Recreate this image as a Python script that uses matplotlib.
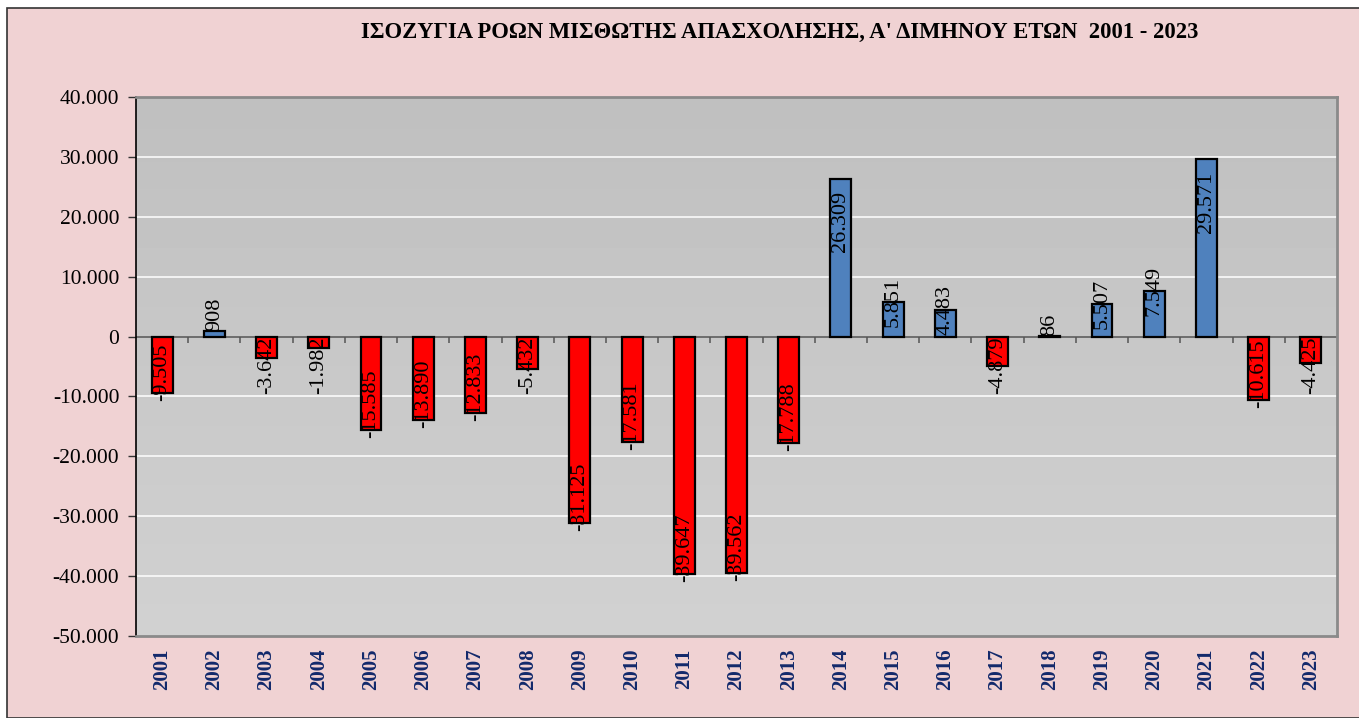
import matplotlib.pyplot as plt
import numpy as np
from matplotlib.patches import Rectangle

years = [str(y) for y in range(2001, 2024)]
values = [-9505, 908, -3642, -1982, -15585, -13890, -12833, -5432, -31125,
          -17581, -39647, -39562, -17788, 26309, 5851, 4483, -4879, 86,
          5507, 7549, 29571, -10615, -4425]
labels = ['-9.505', '908', '-3.642', '-1.982', '-15.585', '-13.890', '-12.833',
          '-5.432', '-31.125', '-17.581', '-39.647', '-39.562', '-17.788',
          '26.309', '5.851', '4.483', '-4.879', '86', '5.507', '7.549',
          '29.571', '-10.615', '-4.425']
yticks = list(range(-50000, 40001, 10000))
ytick_labels = ['-50.000', '-40.000', '-30.000', '-20.000', '-10.000', '0',
                '10.000', '20.000', '30.000', '40.000']
title = "ΙΣΟΖΥΓΙΑ ΡΟΩΝ ΜΙΣΘΩΤΗΣ ΑΠΑΣΧΟΛΗΣΗΣ, Α' ΔΙΜΗΝΟΥ ΕΤΩΝ  2001 - 2023"

plt.rcParams['font.family'] = ['Liberation Serif', 'DejaVu Serif']

fig = plt.figure(figsize=(13.59, 7.18), dpi=100)
fig.patch.set_facecolor('white')
# pink frame behind everything
fig.patches.append(Rectangle((7 / 1359, 0), 1.0, 1 - 8 / 718, transform=fig.transFigure,
                             facecolor='#f0d2d3', edgecolor='#333333', linewidth=1.2, zorder=-5))

ax = fig.add_axes([136 / 1359, 1 - 636 / 718, (1337 - 136) / 1359, (636 - 97) / 718])
ax.set_zorder(2)

# gradient background of plot area (darker at top)
grad = np.linspace(0.75, 0.82, 100).reshape(-1, 1)
ax.imshow(grad, cmap='gray', vmin=0, vmax=1, aspect='auto', extent=[0, 1, 1, 0],
          origin='lower', transform=ax.transAxes, zorder=0)
ax.set_xlim(-0.5, len(years) - 0.5)
ax.set_ylim(-50000, 40000)

for yv in yticks[1:-1]:
    ax.axhline(yv, color='white', linewidth=1.1, zorder=1)

x = np.arange(len(years))
colors = ['#4f81bd' if v >= 0 else '#ff0000' for v in values]
ax.bar(x, values, width=0.4, color=colors, edgecolor='black', linewidth=1.6, zorder=3)

# zero axis line with category boundary ticks
ax.axhline(0, color='#555555', linewidth=1.2, zorder=2)
ax.vlines(np.arange(len(years) - 1) + 0.5, -1000, 0, color='#555555', linewidth=1.1, zorder=2)

# data labels, placed after measuring their length
texts = [ax.text(xi, 0, lab, rotation=90, ha='center', va='center', fontsize=16,
                 color='black', zorder=4) for xi, lab in zip(x, labels)]
fig.canvas.draw()
rend = fig.canvas.get_renderer()
px = ax.get_window_extent().height / 90000.0  # pixels per unit
for t, v in zip(texts, values):
    hpx = t.get_window_extent(rend).height
    tl = hpx / px
    if v >= 0:
        if v * px > hpx + 14:
            t.set_y(v - 12 / px)
            t.set_va('top')
        elif v >= tl / 2:
            t.set_y(v)
            t.set_va('center')
        else:
            t.set_y(v)
            t.set_va('bottom')
    else:
        t.set_y(min(v - 8 / px, -tl))
        t.set_va('bottom')

ax.set_yticks(yticks)
ax.set_yticklabels(ytick_labels, fontsize=15.5)
ax.tick_params(axis='y', length=6, width=1, color='#333333', pad=6)
ax.set_xticks(x)
ax.set_xticklabels(years, rotation=90, fontsize=15, fontweight='bold', color='#12296b')
ax.tick_params(axis='x', length=0, pad=9)

ax.spines['left'].set_color('black')
ax.spines['left'].set_linewidth(1.2)
for s in ['top', 'right', 'bottom']:
    ax.spines[s].set_color('#8a8a8a')
    ax.spines[s].set_linewidth(2)

fig.text(780 / 1359, 1 - 32 / 718, title, ha='center', va='center', fontsize=16.3,
         fontweight='bold', color='black')

fig.savefig('out.png', dpi=100)
